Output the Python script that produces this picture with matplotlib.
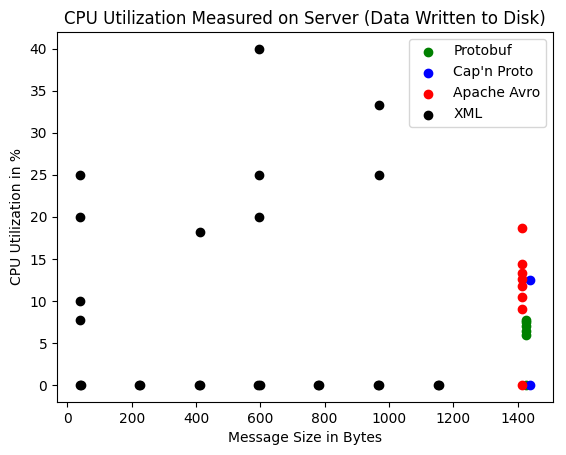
import numpy as np
import matplotlib.pyplot as plt

# Protobuf
pb_x = [1426, 1426, 1426, 1426, 1426, 1426]
pb_y = [0, 6.0, 6.5, 7.0, 7.5, 7.8]
# Cap'n Proto
cp_x = [1440, 1440]
cp_y = [0, 12.5]
# Apache Avro
av_x = [1414, 1414, 1414, 1414, 1414, 1414, 1414, 1414]
av_y = [0, 9.1, 10.5, 11.8, 12.6, 13.3, 14.4, 18.7]
# XML
xml_x = [38, 42, 40, 40, 40, 40, 222, 226, 410, 414, 412, 594, 598, 596, 596, 596,
         780, 784, 966, 970, 968, 968, 1152, 1156]
xml_y = [0, 0, 7.7, 10, 20, 25, 0, 0, 0, 0, 18.2, 0, 0, 20, 25, 40,
         0, 0, 0, 0, 25, 33.3, 0, 0]

fig = plt.figure(figsize=(5.66, 4.55), dpi=100)
ax = fig.add_axes([0.1007, 0.1165, 0.8763, 0.8132])
ax.scatter(pb_x, pb_y, c="green", label="Protobuf")
ax.scatter(cp_x, cp_y, c="blue", label="Cap'n Proto")
ax.scatter(av_x, av_y, c="red", label="Apache Avro")
ax.scatter(xml_x, xml_y, c="black", label="XML")
ax.set_xlabel("Message Size in Bytes")
ax.set_ylabel("CPU Utilization in %")
ax.set_title("CPU Utilization Measured on Server (Data Written to Disk)")
ax.legend(loc="upper right")
fig.savefig("out.png")
